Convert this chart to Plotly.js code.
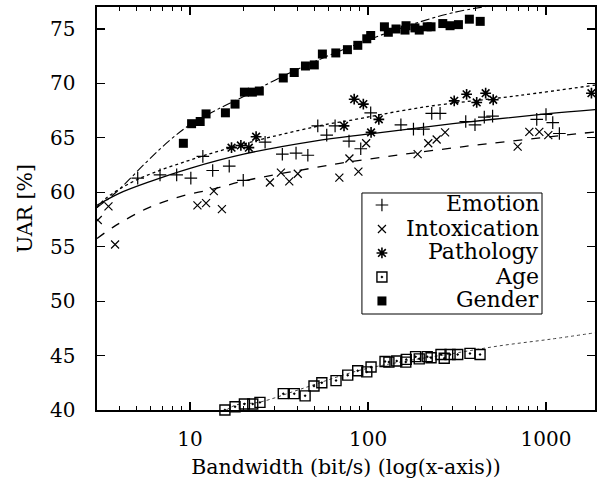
<!DOCTYPE html>
<html>
<head>
<meta charset="utf-8">
<script src="https://cdn.plot.ly/plotly-3.0.1.min.js"></script>
<style>html,body{margin:0;padding:0;background:#fff;}#chart{width:603px;height:486px;}</style>
</head>
<body>
<div id="chart"></div>
<script>
// ---- data ----
const seriesNames = ["Emotion", "Intoxication", "Pathology", "Age", "Gender"];

const emotionX = [5.08, 6.78, 8.41, 10.1, 11.8, 13.4, 16.6, 19.9, 26.4, 33.0, 39.4, 45.9, 52.2, 58.6, 65.3, 78.2, 91.0, 103.5, 153, 180, 205, 228, 254, 354, 399, 450, 501, 887, 1000, 1091, 1189];
const emotionY = [61.3, 61.6, 61.6, 61.3, 63.3, 62.0, 62.4, 61.1, 64.6, 63.5, 63.6, 63.4, 66.1, 65.25, 66.1, 64.7, 64.0, 67.3, 66.2, 65.8, 65.8, 67.25, 67.25, 66.5, 66.2, 66.9, 67.0, 66.7, 67.15, 66.4, 65.4];

const intoxX = [3.03, 3.48, 3.79, 11.0, 12.3, 13.6, 15.1, 28.1, 32.4, 36.1, 40.3, 69.0, 78.6, 88.3, 97.6, 190, 218, 243, 271, 693, 806, 917, 1030];
const intoxY = [57.45, 58.7, 55.2, 58.8, 59.0, 60.1, 58.45, 60.9, 61.8, 61.0, 61.7, 61.35, 63.1, 61.9, 64.5, 63.5, 64.5, 64.85, 65.5, 64.2, 65.55, 65.55, 65.25];

const pathX = [17.1, 19.3, 21.4, 23.5, 73.3, 83.6, 94.1, 104, 115, 305, 358, 408, 458, 505, 1800];
const pathY = [64.1, 64.3, 64.1, 65.1, 66.1, 68.55, 68.1, 65.5, 66.7, 68.4, 69.0, 68.25, 69.1, 68.5, 69.1];

const ageX = [15.7, 17.9, 20.2, 22.5, 24.7, 33.4, 38.5, 44.3, 49.7, 55.0, 66.1, 76.9, 87.5, 98.4, 104, 124.6, 131, 145, 163, 164, 185, 194, 215, 226, 257, 268, 289, 319, 374, 426];
const ageY = [40.0, 40.3, 40.55, 40.55, 40.7, 41.5, 41.5, 41.3, 42.2, 42.5, 42.7, 43.2, 43.6, 43.5, 43.95, 44.45, 44.4, 44.5, 44.4, 44.65, 44.9, 44.7, 44.9, 44.8, 45.1, 44.75, 45.1, 45.1, 45.2, 45.1];

const genderX = [9.17, 10.2, 11.4, 12.3, 15.8, 17.9, 20.2, 22.4, 24.5, 33.4, 38.5, 44.5, 49.9, 55.4, 65.9, 76.6, 87.6, 98.4, 103.5, 123.6, 130, 143.6, 161.4, 163.5, 183.5, 194, 215, 226, 263, 289, 322, 371, 427];
const genderY = [64.5, 66.3, 66.5, 67.2, 67.3, 68.1, 69.2, 69.2, 69.3, 70.5, 71.0, 71.6, 71.7, 72.7, 72.8, 73.1, 73.5, 74.1, 74.4, 75.2, 74.7, 75.0, 74.9, 75.3, 75.1, 74.9, 75.2, 75.2, 75.5, 75.3, 75.4, 75.9, 75.7];

// fitted curves
const emotionFitX = [3, 4, 6, 10, 20, 50, 100, 300, 1000, 1900];
const emotionFitY = [58.8, 59.9, 61.0, 62.2, 63.5, 64.7, 65.35, 66.3, 67.2, 67.6];
const intoxFitX = [3, 3.7, 5.7, 8.8, 13.5, 20.8, 61, 79, 345, 1900];
const intoxFitY = [55.75, 56.8, 58.5, 59.6, 60.3, 61.1, 62.5, 62.8, 64.2, 65.55];
const pathFitX = [3.0, 3.4, 5.1, 11.6, 17.9, 26.4, 61, 79, 200, 714, 1900];
const pathFitY = [58.6, 59.5, 61.2, 63.3, 64.2, 64.95, 66.3, 66.6, 67.8, 68.9, 69.85];
const ageFitX = [16, 18.1, 24.7, 41.5, 87.5, 151, 289, 551, 1055, 1900];
const ageFitY = [40.0, 40.46, 40.73, 41.9, 43.6, 44.4, 45.15, 45.9, 46.5, 47.1];
const genderFitX = [3.0, 3.87, 5.71, 7.72, 10, 15, 20, 30, 50, 100, 200, 300, 470];
const genderFitY = [58.6, 60.05, 62.8, 64.8, 66.2, 67.8, 68.8, 70.3, 72.0, 74.0, 75.7, 76.5, 77.1];

// axis ticks
const xTickVals = [10, 100, 1000];
const xTickText = ["10", "100", "1000"];
const xMinorVals = [4, 5, 6, 7, 8, 9, 20, 30, 40, 50, 60, 70, 80, 90, 200, 300, 400, 500, 600, 700, 800, 900];
const yTickVals = [40, 45, 50, 55, 60, 65, 70, 75];

// ---- traces ----
const serif = "DejaVu Serif";
function pts(x, y, name, symbol, size, filled, extra) {
  return Object.assign({
    x: x, y: y, name: " ", type: "scatter", mode: "markers",
    showlegend: true, hoverinfo: "x+y",
    hovertext: name,
    marker: {symbol: symbol, size: size, color: "black",
             line: {color: "black", width: filled ? 0 : 1.2}}
  }, extra || {});
}
function fit(x, y, dash, width, color) {
  return {x: x, y: y, type: "scatter", mode: "lines", showlegend: false, hoverinfo: "skip",
          line: {color: color || "black", width: width, dash: dash, shape: "spline", smoothing: 1}};
}

const data = [
  fit(emotionFitX, emotionFitY, "solid", 1.3),
  fit(intoxFitX, intoxFitY, "dash", 1.3),
  fit(pathFitX, pathFitY, "dot", 1.3),
  fit(ageFitX, ageFitY, "dot", 1.0, "#444"),
  fit(genderFitX, genderFitY, "dashdot", 1.1),
  pts(emotionX, emotionY, seriesNames[0], "cross-thin", 9, false),
  pts(intoxX, intoxY, seriesNames[1], "x-thin", 8, false),
  pts(pathX, pathY, seriesNames[2], "asterisk", 9, false, {marker: {symbol: "asterisk", size: 9, color: "black", line: {color: "black", width: 1.6}}}),
  pts(ageX, ageY, seriesNames[3], "square-open-dot", 10, false, {cliponaxis: false, marker: {symbol: "square-open-dot", size: 10, color: "black", line: {color: "black", width: 1.4}}}),
  pts(genderX, genderY, seriesNames[4], "square", 9, true)
];

// legend geometry (paper coords)
const legendLabelY = [0.5112, 0.4516, 0.3921, 0.3325, 0.2730];
const annotations = seriesNames.map((n, i) => ({
  xref: "paper", yref: "paper", x: 0.8916, y: legendLabelY[i],
  xanchor: "right", yanchor: "middle", showarrow: false, text: n,
  font: {family: serif, size: 22, color: "black"}
}));

const layout = {
  width: 603, height: 486,
  margin: {l: 97, r: 8, t: 7, b: 76, pad: 0},
  paper_bgcolor: "white", plot_bgcolor: "white",
  font: {family: serif, size: 20, color: "black"},
  showlegend: true,
  legend: {x: 0.532, y: 0.5385 + 5/403, xanchor: "left", yanchor: "top", bgcolor: "rgba(0,0,0,0)",
           borderwidth: 0, font: {family: serif, size: 16.15}, itemwidth: 30, tracegroupgap: 0},
  xaxis: {
    type: "log", range: [Math.log10(3), 3.2753],
    tickmode: "array", tickvals: xTickVals, ticktext: xTickText,
    ticks: "inside", ticklen: 8, tickwidth: 1.2, tickcolor: "black",
    minor: {tickmode: "array", tickvals: xMinorVals, ticks: "inside", ticklen: 4, tickwidth: 1, tickcolor: "black", showgrid: false},
    showline: true, linewidth: 1.6, linecolor: "black", mirror: "ticks",
    showgrid: false, zeroline: false, ticklabelstandoff: 10,
    tickfont: {family: serif, size: 20},
    title: {text: "Bandwidth (bit/s) (log(x-axis))", font: {family: serif, size: 20.5}, standoff: 10}
  },
  yaxis: {
    range: [40, 77.02], tickmode: "array", tickvals: yTickVals,
    ticks: "inside", ticklen: 8, tickwidth: 1.2, tickcolor: "black",
    showline: true, linewidth: 1.6, linecolor: "black", mirror: "ticks",
    showgrid: false, zeroline: false, ticklabelstandoff: 16,
    tickfont: {family: serif, size: 20},
    title: {text: "UAR [%]", font: {family: serif, size: 20.5}, standoff: 12}
  },
  shapes: [{type: "rect", xref: "paper", yref: "paper", x0: 0.532, x1: 0.8936, y0: 0.2382, y1: 0.5385,
            line: {color: "black", width: 1}, fillcolor: "rgba(0,0,0,0)"}],
  annotations: annotations
};

Plotly.newPlot("chart", data, layout, {staticPlot: true, displayModeBar: false});
</script>
</body>
</html>
